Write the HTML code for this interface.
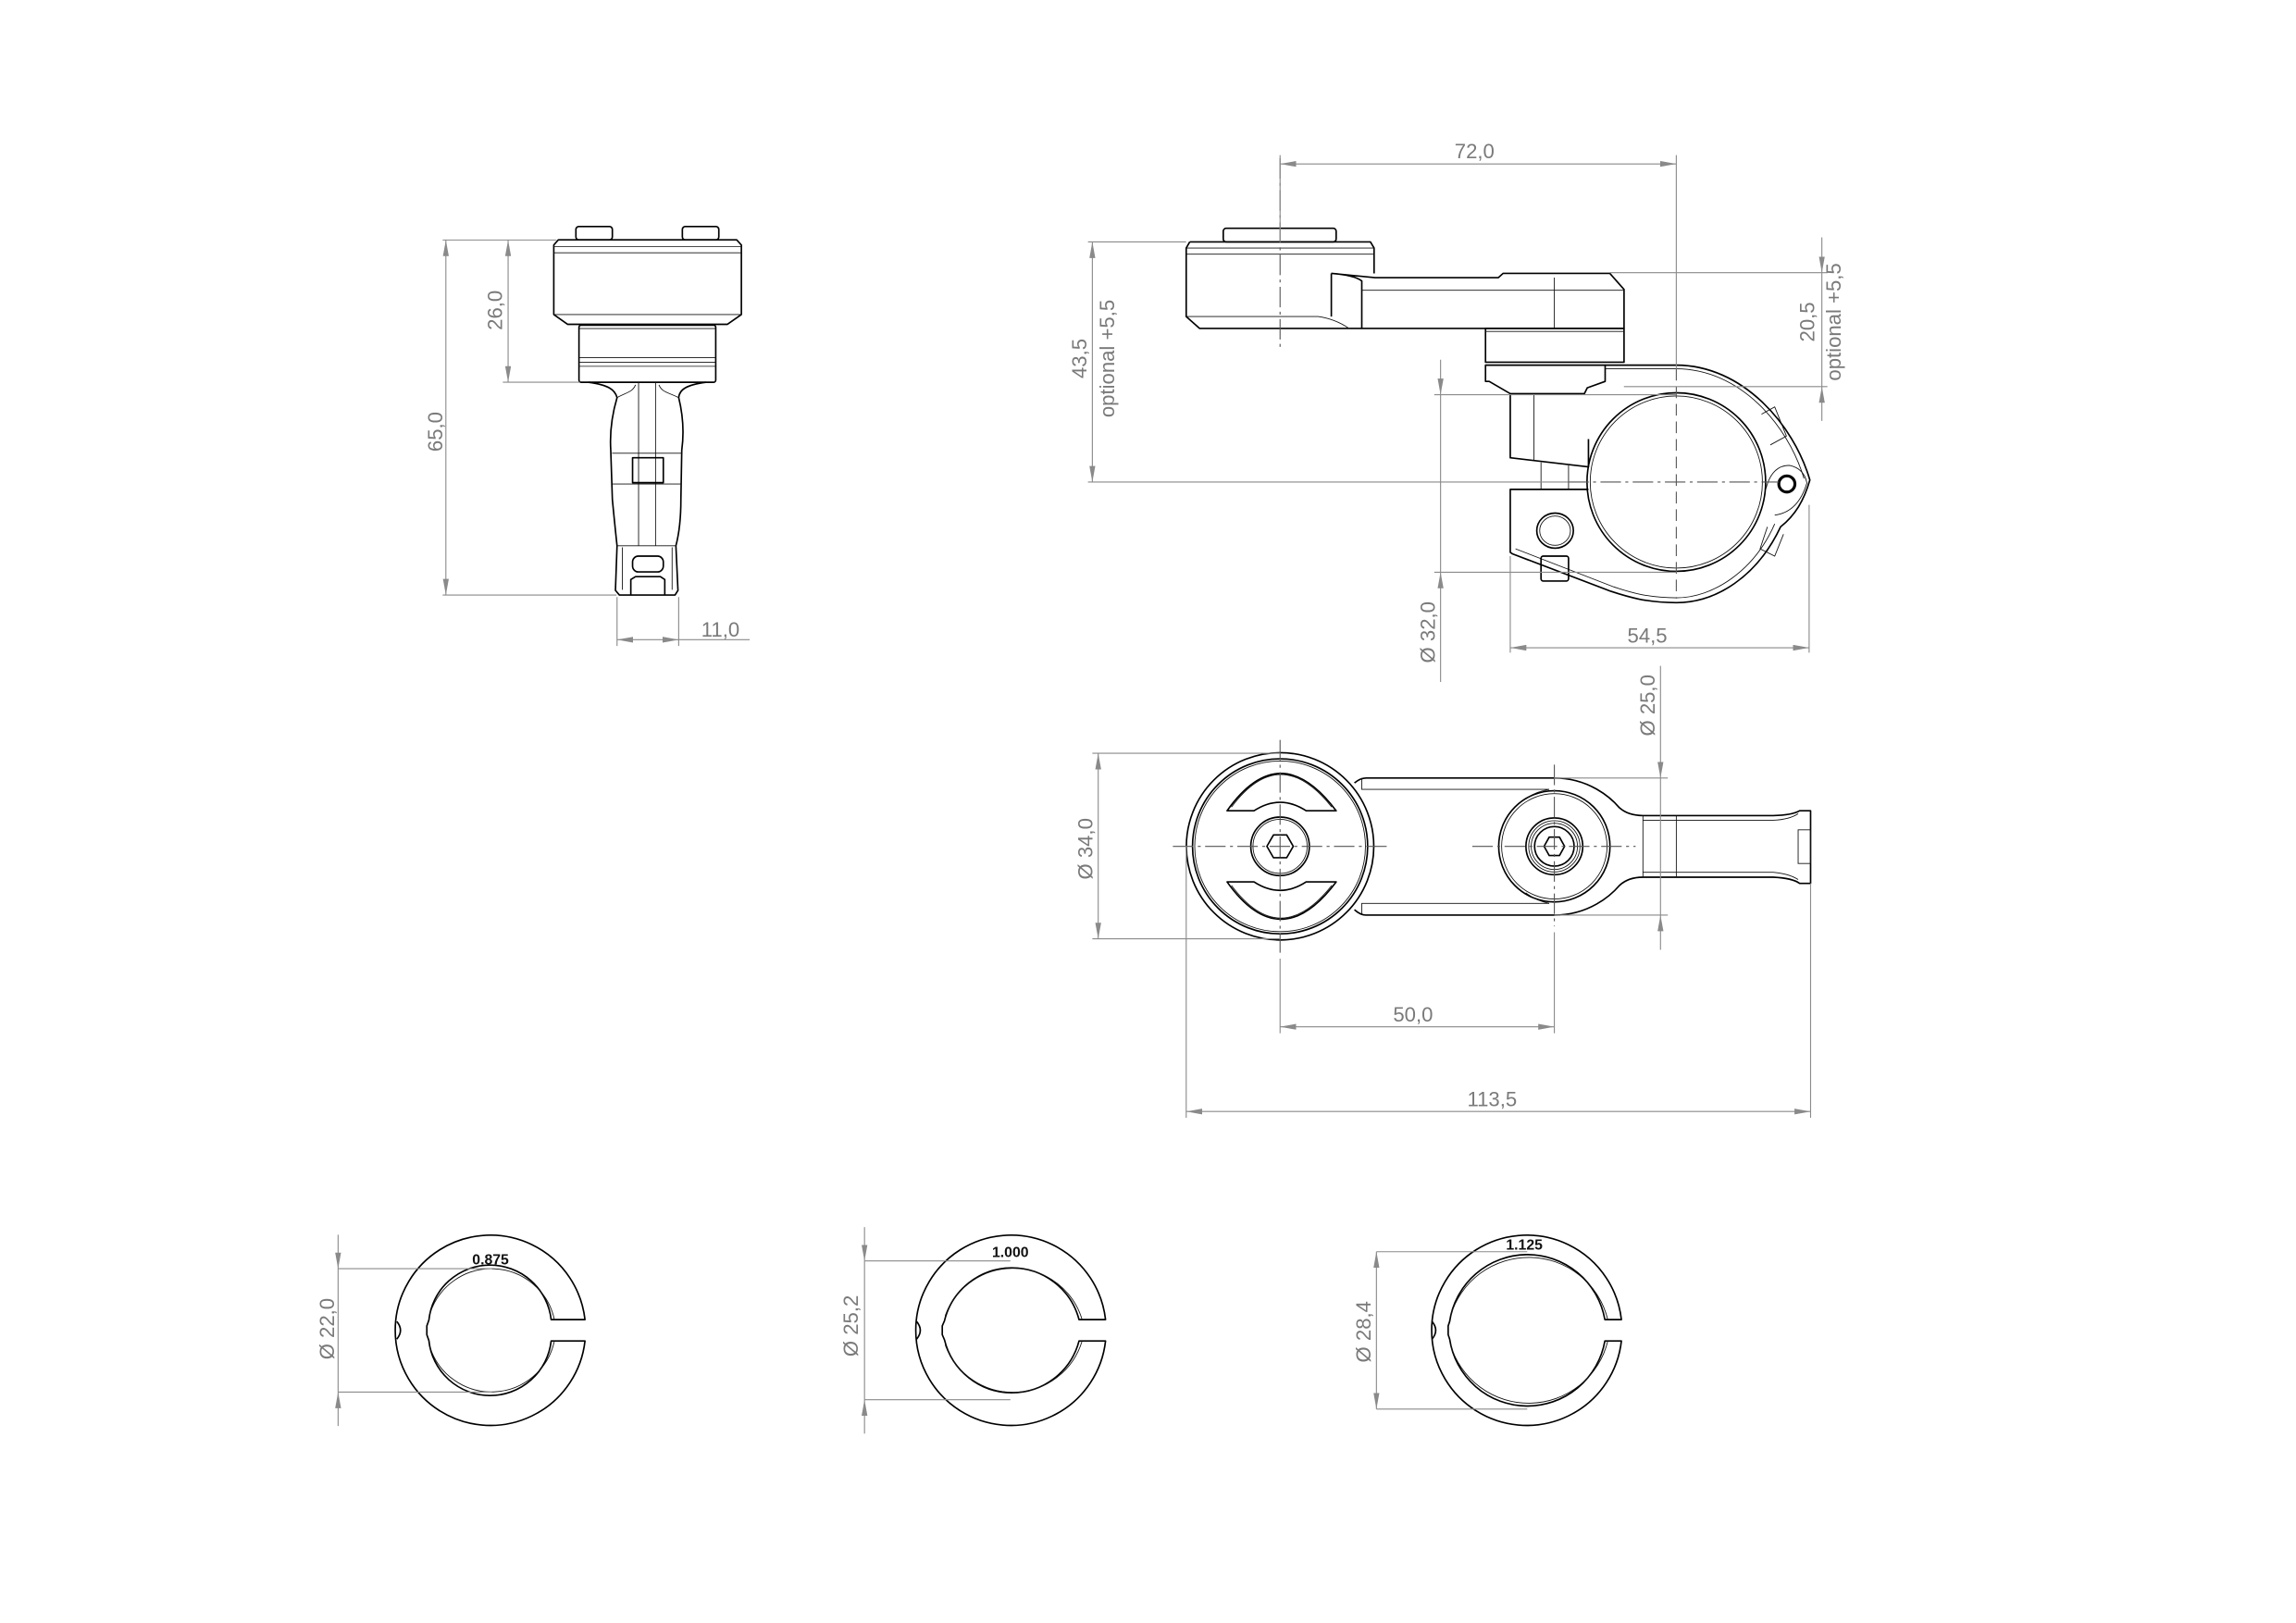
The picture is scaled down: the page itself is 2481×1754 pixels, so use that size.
<!DOCTYPE html>
<html><head><meta charset="utf-8"><style>
html,body{margin:0;padding:0;background:#fff;}
svg{display:block;}
.p{fill:none;stroke:#000;stroke-width:1.05;stroke-linejoin:round;}
.t{fill:none;stroke:#111;stroke-width:0.55;}
.d{fill:none;stroke:#8a8a8a;stroke-width:0.7;}
.c{fill:none;stroke:#555;stroke-width:0.7;stroke-dasharray:14 3 2 3;}
.cd{fill:none;stroke:#555;stroke-width:0.7;stroke-dasharray:8 4;}
text{font-family:"Liberation Sans",sans-serif;fill:#7a7a7a;font-size:14px;}
.s{font-size:10px;font-weight:bold;fill:#111;}
</style></head><body>
<svg width="2481" height="1754" viewBox="0 0 1568 1109" preserveAspectRatio="none" xmlns="http://www.w3.org/2000/svg">
<defs>
<marker id="a" viewBox="0 0 11 4" refX="11" refY="2" markerWidth="11" markerHeight="4" markerUnits="userSpaceOnUse" orient="auto-start-reverse"><path d="M0,0 L11,2 L0,4z" fill="#8a8a8a"/></marker>
</defs>
<rect width="1568" height="1109" fill="#fff"/>

<!-- ===== LEFT VIEW ===== -->
<rect class="p" x="393.3" y="154.8" width="24.9" height="9.1" rx="2"/>
<rect class="p" x="466" y="154.8" width="24.9" height="9.1" rx="2"/>
<path class="p" d="M381.3,163.9 L503.1,163.9 L506.3,167.4 L506.3,214.9 L496.8,221.6 L387.6,221.6 L378.2,214.9 L378.2,167.4 Z"/>
<path class="t" d="M378.2,168.5 H506.3 M378.2,172.7 H506.3 M378.2,214.9 H506.3"/>
<rect class="p" x="395.4" y="222.2" width="93.4" height="39" rx="1.5"/>
<path class="t" d="M395.4,224.5 H488.8 M395.4,244.4 H488.8 M395.4,247.5 H488.8 M395.4,250.3 H488.8"/>
<path class="p" d="M402,261.2 C415,263 420,266 421.4,271.7 Q416,290 417.1,307.6 L418.2,341.3 Q420,360 421.4,372.9 L420.3,403.4 L423,406.6 L461,406.6 L463,403.4 L461.6,372.9 Q465,360 465,341.3 L465.6,307.6 Q468,290 463.5,271.7 C464,266 469,263 482,261.2"/>
<path class="t" d="M421.4,271.7 C428,268 432,268 434,263 M463.5,271.7 C456,268 452,268 450,263 M436.1,261.2 V372.9 M447.7,261.2 V372.9 M418,309.7 H465.6 M418,330.7 H465.6 M421.4,372.9 H461.6 M425,374 V403 M459,374 V403"/>
<rect class="p" x="432" y="312.8" width="21" height="17"/>
<rect class="p" x="432" y="380" width="21" height="10.8" rx="4"/>
<path class="p" d="M430.8,406.6 L430.8,396 L434,394 L451,394 L454,396 L454,406.6"/>

<!-- left dims -->
<path class="d" d="M302.3,164 H380 M343.4,261.2 H396 M302.3,406.6 H421 M421.4,408 V441.4 M463.5,408 V441.4"/>
<line class="d" x1="304.5" y1="164" x2="304.5" y2="406.6" marker-start="url(#a)" marker-end="url(#a)"/>
<line class="d" x1="347" y1="164" x2="347" y2="261.2" marker-start="url(#a)" marker-end="url(#a)"/>
<line class="d" x1="421.4" y1="437.1" x2="463.5" y2="437.1" marker-start="url(#a)" marker-end="url(#a)"/>
<line class="d" x1="463.5" y1="437.1" x2="512" y2="437.1"/>
<text transform="translate(302,295) rotate(-90)" text-anchor="middle">65,0</text>
<text transform="translate(343,212) rotate(-90)" text-anchor="middle">26,0</text>
<text x="492" y="435" text-anchor="middle">11,0</text>

<!-- ===== SIDE VIEW ===== -->
<rect class="p" x="835.4" y="156" width="77.1" height="9.3" rx="2"/>
<path class="p" d="M812.5,165.3 L935.9,165.3 L938.4,169.5 L938.4,186.8 M812.5,165.3 L810.1,169.5 L810.1,216.3 L819.2,224.4 L921.2,224.4"/>
<path class="t" d="M810.1,169.5 H938.4 M810.1,173.7 H938.4 M810.1,216.3 H900.2 Q912,218 921.2,224.4"/>
<path class="p" d="M909.2,186.8 L939,189.7 L1023.3,189.7 L1026.5,186.8 L1099.4,186.8 L1109.1,197.8 L1109.1,224.4 L921.2,224.4 M909.2,186.8 V216.3 M909.2,186.8 Q925,188 930,192 V224.4"/>
<path class="t" d="M930,198.3 H1109.1 M1061.5,189.7 V224.4"/>
<rect class="p" x="1014.5" y="224.4" width="94.6" height="23.1"/>
<path class="t" d="M1014.5,226.5 H1109.1"/>
<path class="p" d="M1014.5,249.5 H1096.2 V260.6 L1084,265 L1082,269 L1031.4,269 L1017,260.6 L1014.5,260.6 Z"/>
<path class="p" d="M1031.4,269 V312.8 L1084.8,319 L1084.8,300"/>
<path class="t" d="M1047.6,269 V314.5 M1052.4,316 V334.4 M1071.2,318 V334.4"/>
<path class="p" d="M1096.2,249.5 L1144.8,249.5 C1190,249.5 1225,290 1236,328 C1232,342 1226,352 1216,360 C1200,394 1172,411.8 1144.8,411.8 C1125,411.8 1112,408 1100,404 L1033,378.5 L1031.4,377.4 V334.4 H1084.8"/>
<path class="t" d="M1096.2,252 L1144.8,252 C1188,252 1221,290 1232,327 M1212,358 C1198,390 1170,408.5 1144.8,408.5 C1126,408.5 1114,405 1102,401 L1035,375"/>
<circle class="p" cx="1144.8" cy="329.4" r="61"/>
<circle class="t" cx="1144.8" cy="329.4" r="58.8"/>
<path class="t" d="M1203,283 L1212,278 L1220,298 L1209,304 M1207,360 L1202,375 L1212,380 L1218,365 M1206,334 Q1210,318 1222,318 Q1232,320 1234,330 Q1228,350 1212,352"/>
<circle cx="1220.3" cy="330.7" r="5.5" fill="none" stroke="#000" stroke-width="2"/>
<ellipse class="p" cx="1062" cy="362.6" rx="12.5" ry="12"/>
<ellipse class="t" cx="1062" cy="362.6" rx="10.5" ry="10"/>
<rect class="p" x="1052.4" y="380" width="18.8" height="17" rx="1.5"/>
<line class="c" x1="874.2" y1="108" x2="874.2" y2="237"/>
<line class="c" x1="1071" y1="329.4" x2="1215" y2="329.4"/>
<line class="cd" x1="1144.8" y1="252" x2="1144.8" y2="409"/>

<!-- side dims -->
<path class="d" d="M874.2,106 V165 M1144.8,106 V252 M743,165.3 H810 M743,329.4 H1071 M1099.4,186.3 H1248 M1109,264.2 H1248 M979.5,269.7 H1144.8 M979.5,391 H1144.8 M1031.4,380 V446 M1235.5,345 V446"/>
<line class="d" x1="874.2" y1="112" x2="1144.8" y2="112" marker-start="url(#a)" marker-end="url(#a)"/>
<line class="d" x1="746" y1="165.3" x2="746" y2="329.4" marker-start="url(#a)" marker-end="url(#a)"/>
<line class="d" x1="1244.2" y1="162.2" x2="1244.2" y2="186.3" marker-end="url(#a)"/>
<line class="d" x1="1244.2" y1="287.6" x2="1244.2" y2="264.2" marker-end="url(#a)"/>
<line class="d" x1="1244.2" y1="186.3" x2="1244.2" y2="264.2"/>
<line class="d" x1="983.8" y1="245.8" x2="983.8" y2="269.7" marker-end="url(#a)"/>
<line class="d" x1="983.8" y1="466" x2="983.8" y2="391" marker-end="url(#a)"/>
<line class="d" x1="983.8" y1="269.7" x2="983.8" y2="391"/>
<line class="d" x1="1031.4" y1="442.6" x2="1235.5" y2="442.6" marker-start="url(#a)" marker-end="url(#a)"/>
<text x="1007" y="108" text-anchor="middle">72,0</text>
<text transform="translate(742,245) rotate(-90)" text-anchor="middle">43,5</text>
<text transform="translate(761,245) rotate(-90)" text-anchor="middle">optional +5,5</text>
<text transform="translate(1239,220) rotate(-90)" text-anchor="middle">20,5</text>
<text transform="translate(1257,220) rotate(-90)" text-anchor="middle">optional +5,5</text>
<text transform="translate(980,432) rotate(-90)" text-anchor="middle">Ø 32,0</text>
<text x="1125" y="439" text-anchor="middle">54,5</text>

<!-- ===== TOP VIEW ===== -->
<circle class="p" cx="874.2" cy="578.3" r="64"/>
<circle class="p" cx="874.2" cy="578.3" r="59.8"/>
<circle class="t" cx="874.2" cy="578.3" r="58.3"/>
<path class="p" d="M838,554 Q874.2,503 912.5,554 L892,554 Q874.2,542.4 856.4,554 Z"/>
<path class="t" d="M841,551.5 Q874.2,507 909.5,551.5"/>
<path class="p" d="M838,602.6 Q874.2,653.6 912.5,602.6 L892,602.6 Q874.2,614.2 856.4,602.6 Z"/>
<path class="t" d="M841,605 Q874.2,649.6 909.5,605"/>
<circle class="p" cx="874.2" cy="578.3" r="20"/>
<circle class="t" cx="874.2" cy="578.3" r="18.5"/>
<path class="p" d="M865.2,578.3 L869.7,570.5 L878.7,570.5 L883.2,578.3 L878.7,586.1 L869.7,586.1 Z"/>
<path class="p" d="M925,535 Q929,531.6 933,531.6 L1061.5,531.6 M925,621.6 Q929,625.3 933,625.3 L1061.5,625.3"/>
<path class="t" d="M930,531.6 V539.4 H1058 M930,625.3 V617.3 H1058"/>
<path class="p" d="M1061.5,531.6 C1085,531.6 1100,545 1106,552 Q1112,557.3 1122,557.3 L1211,557.3 Q1224,557 1229,554 L1236.5,554 L1236.5,603.6 L1229,603.6 Q1224,600 1211,599.4 L1122,599.4 Q1112,599.4 1106,605 C1100,612 1085,625.3 1061.5,625.3"/>
<path class="t" d="M1122,560.5 H1211 Q1222,560 1228,556 M1122,596 H1211 Q1222,597 1228,601 M1122,557.3 V599.4 M1144.8,557.3 V599.4 M1228,567 H1236.5 V590 H1228 Z"/>
<circle class="p" cx="1061.5" cy="578.3" r="38"/>
<circle class="t" cx="1061.5" cy="578.3" r="36"/>
<path class="t" d="M1058,539.4 Q1048,541 1042,546 M1058,617.3 Q1048,615 1042,610"/>
<circle class="p" cx="1061.5" cy="578.3" r="19.4"/>
<circle class="t" cx="1061.5" cy="578.3" r="17.5"/>
<circle class="t" cx="1061.5" cy="578.3" r="15.8"/>
<circle class="p" cx="1061.5" cy="578.3" r="13.5"/>
<path class="p" d="M1054.5,578.3 L1058,572 L1065,572 L1068.5,578.3 L1065,584.6 L1058,584.6 Z"/>
<line class="c" x1="801" y1="578.3" x2="947" y2="578.3"/>
<line class="c" x1="1005.5" y1="578.3" x2="1117" y2="578.3"/>
<line class="c" x1="874.2" y1="505.6" x2="874.2" y2="651"/>
<line class="c" x1="1061.5" y1="522.5" x2="1061.5" y2="633"/>

<!-- top dims -->
<path class="d" d="M746,514.7 H874 M746,641.5 H874 M1061.5,531.6 H1139 M1061.5,625.3 H1139 M874.2,655 V706 M1061.5,637 V706 M810.1,578 V763.8 M1236.5,603.6 V763.8"/>
<line class="d" x1="750" y1="514.7" x2="750" y2="641.5" marker-start="url(#a)" marker-end="url(#a)"/>
<line class="d" x1="1134" y1="455" x2="1134" y2="531.6" marker-end="url(#a)"/>
<line class="d" x1="1134" y1="649" x2="1134" y2="625.3" marker-end="url(#a)"/>
<line class="d" x1="1134" y1="531.6" x2="1134" y2="625.3"/>
<line class="d" x1="874.2" y1="701.6" x2="1061.5" y2="701.6" marker-start="url(#a)" marker-end="url(#a)"/>
<line class="d" x1="810.1" y1="759.5" x2="1236.5" y2="759.5" marker-start="url(#a)" marker-end="url(#a)"/>
<text transform="translate(746,580) rotate(-90)" text-anchor="middle">Ø 34,0</text>
<text transform="translate(1130,482) rotate(-90)" text-anchor="middle">Ø 25,0</text>
<text x="965" y="698" text-anchor="middle">50,0</text>
<text x="1019" y="756" text-anchor="middle">113,5</text>

<!-- ===== RINGS ===== -->
<path class="p" d="M399.5,901.7 A65,65 0 1 0 399.5,916.3 L376.4,916.3 A42,42 0 0 1 292.9,916 L291.5,912 L291.5,906 L292.9,902 A42,42 0 0 1 376.4,901.7 Z"/>
<path class="t" d="M378.6,901.7 A44,44 0 0 0 293.5,898 M378.6,916.3 A44,44 0 0 1 293.5,920"/>
<path class="p" d="M271,903 Q276,909 271,915"/>
<text class="s" x="335" y="864" text-anchor="middle">0.875</text>
<path class="d" d="M230.9,866.9 H336 M230.9,951.2 H336"/>
<line class="d" x1="230.9" y1="843.7" x2="230.9" y2="866.9" marker-end="url(#a)"/>
<line class="d" x1="230.9" y1="974.4" x2="230.9" y2="951.2" marker-end="url(#a)"/>
<line class="d" x1="230.9" y1="866.9" x2="230.9" y2="951.2"/>
<text transform="translate(228,908) rotate(-90)" text-anchor="middle">Ø 22,0</text>

<path class="p" d="M755,901.7 A65,65 0 1 0 755,916.3 L736.9,916.3 A47.4,47.4 0 0 1 645,915.5 L643.5,912 L643.5,906 L645,902.5 A47.4,47.4 0 0 1 736.9,901.7 Z"/>
<path class="t" d="M739,901.7 A49.3,49.3 0 0 0 645.5,899 M739,916.3 A49.3,49.3 0 0 1 645.5,919"/>
<path class="p" d="M626,903 Q631,909 626,915"/>
<text class="s" x="690" y="859" text-anchor="middle">1.000</text>
<path class="d" d="M590.4,861.6 H690 M590.4,956.4 H690"/>
<line class="d" x1="590.4" y1="838.5" x2="590.4" y2="861.6" marker-end="url(#a)"/>
<line class="d" x1="590.4" y1="979.6" x2="590.4" y2="956.4" marker-end="url(#a)"/>
<line class="d" x1="590.4" y1="861.6" x2="590.4" y2="956.4"/>
<text transform="translate(586,906) rotate(-90)" text-anchor="middle">Ø 25,2</text>

<path class="p" d="M1107.3,901.7 A65,65 0 1 0 1107.3,916.3 L1096,916.3 A53.7,53.7 0 0 1 990,915 L989,912 L989,906 L990,903 A53.7,53.7 0 0 1 1096,901.7 Z"/>
<path class="t" d="M1098,901.7 A55.6,55.6 0 0 0 990.5,899.5 M1098,916.3 A55.6,55.6 0 0 1 990.5,918.5"/>
<path class="p" d="M978,903 Q983,909 978,915"/>
<text class="s" x="1041" y="854" text-anchor="middle">1.125</text>
<path class="d" d="M940,855.3 H1043 M940,962.8 H1043"/>
<line class="d" x1="940" y1="855.3" x2="940" y2="962.8" marker-start="url(#a)" marker-end="url(#a)"/>
<text transform="translate(936,910) rotate(-90)" text-anchor="middle">Ø 28,4</text>
</svg>
</body></html>
